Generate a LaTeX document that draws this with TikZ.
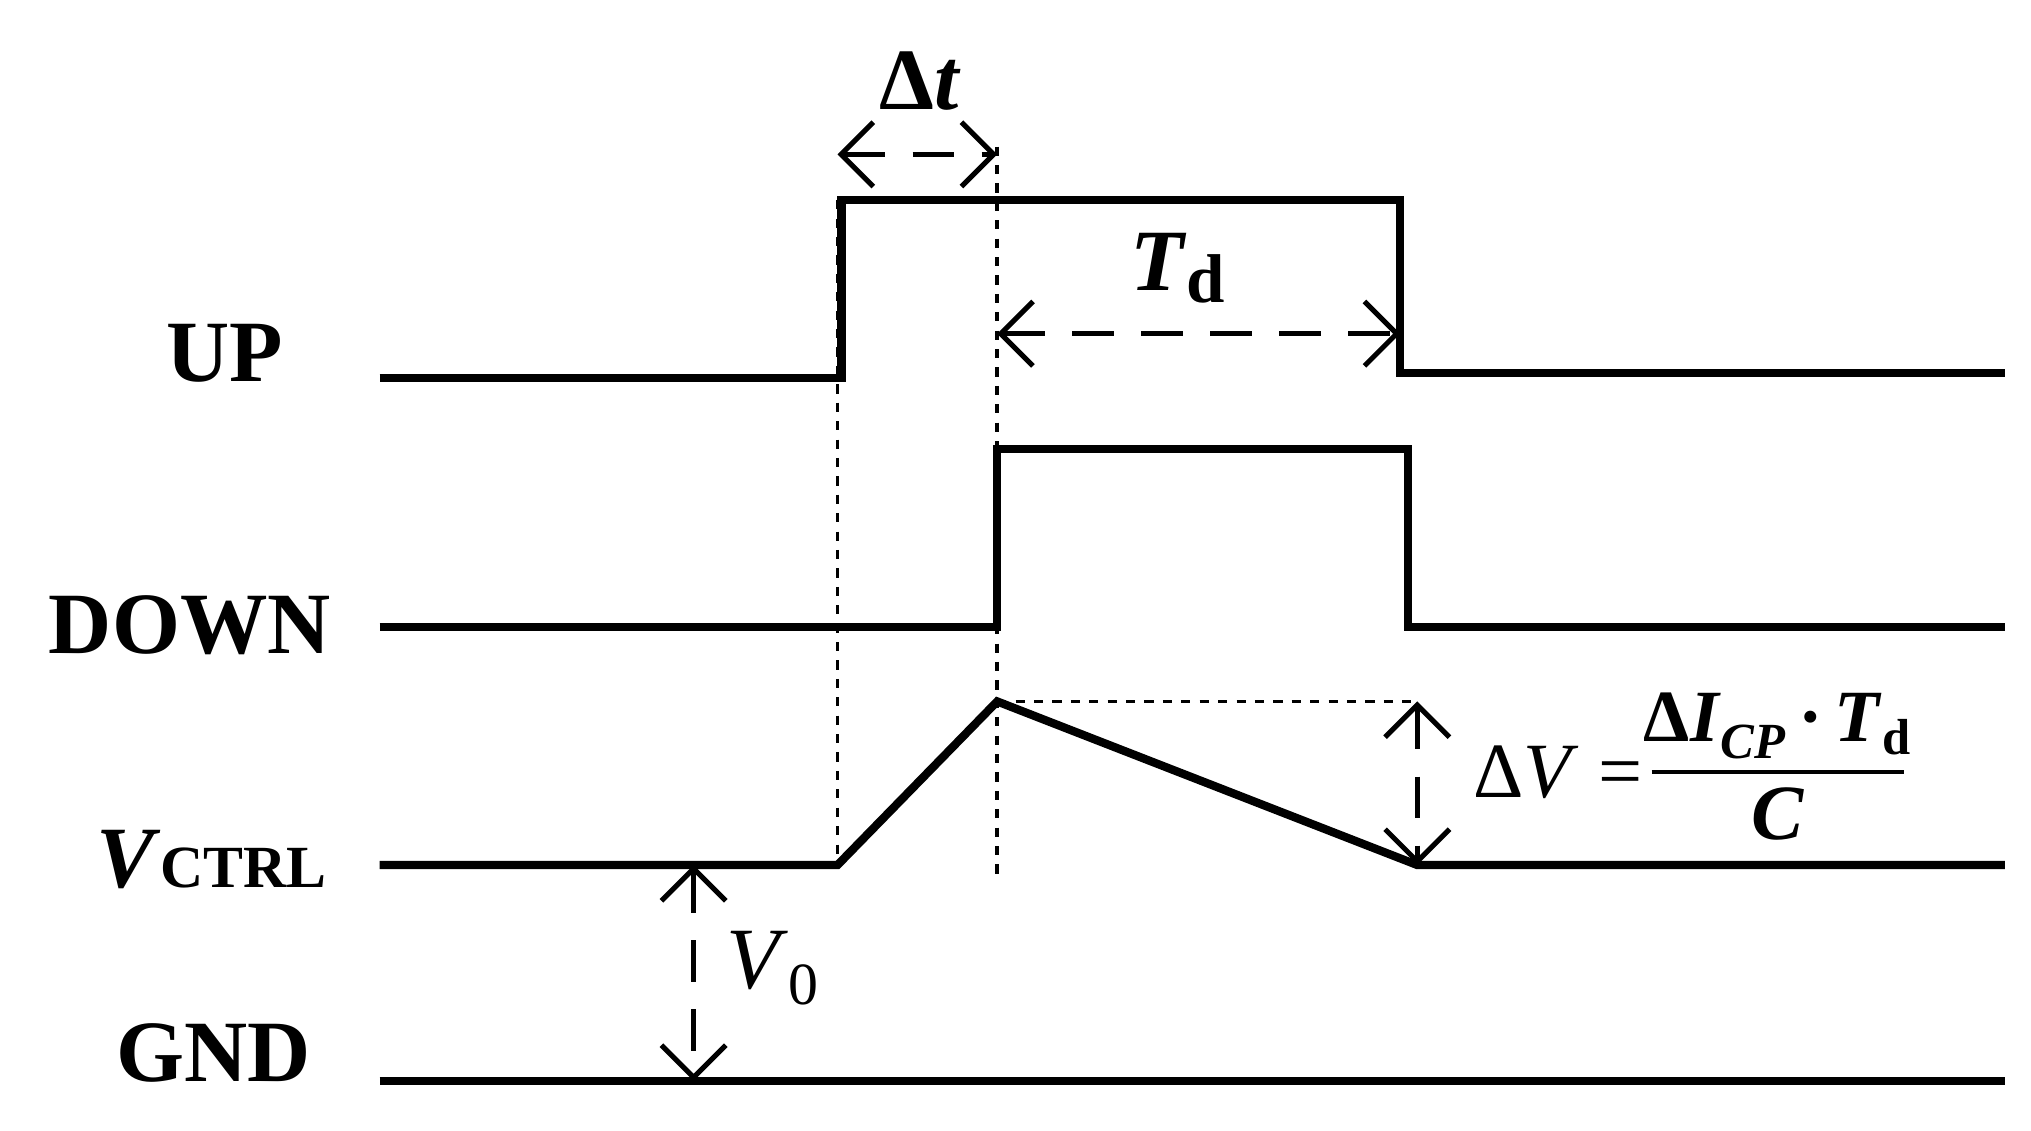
\documentclass[tikz,border=0pt]{standalone}
\usepackage{fontspec}
\setmainfont{Liberation Serif}
\usetikzlibrary{arrows.meta}
\begin{document}
\begin{tikzpicture}[x=0.01cm,y=-0.01cm,
  sig/.style={line width=1.8pt,line join=miter},
  dim/.style={line width=1.1pt,dash pattern=on 9pt off 6pt,{Straight Barb[length=7pt,width=14pt]}-{Straight Barb[length=7pt,width=14pt]}},
  guide/.style={line width=0.8pt,dash pattern=on 2pt off 2pt},
  lab/.style={font=\fontsize{19}{23}\selectfont\bfseries}]
\useasboundingbox (0,0) rectangle (1552,864);
% signals
\draw[sig] (290,289) -- (643,289) -- (643,153) -- (1070,153) -- (1070,285) -- (1532,285);
\draw[sig] (290,479) -- (762,479) -- (762,343) -- (1076,343) -- (1076,479) -- (1532,479);
\draw[sig] (290,661) -- (640,661) -- (762,536) -- (1083,661) -- (1532,661);
\draw[sig] (290,826) -- (1532,826);
% guides
\coordinate (a1) at (640,153); \coordinate (a2) at (640,661);
\coordinate (b1) at (762,112); \coordinate (b2) at (762,670);
\coordinate (p) at (762,536); \coordinate (q) at (1083,536);
\draw[guide] (a1) -- (a2);
\draw[guide] (b1) -- (b2);
\draw[guide] (p) -- (q);
% dimensions
\coordinate (d1) at (640,118); \coordinate (d2) at (762,118);
\draw[dim] (d1) -- (d2);
\coordinate (t1) at (762,255); \coordinate (t2) at (1070,255);
\draw[dim] (t1) -- (t2);
\coordinate (v1) at (1083,536); \coordinate (v2) at (1083,661);
\draw[dim] (v1) -- (v2);
\coordinate (g1) at (530,661); \coordinate (g2) at (530,826);
\draw[dim] (g1) -- (g2);
% labels
\node[lab] (dt) at (703,62) {Δ\textit{t}};
\node[lab] (td) at (900,205) {\textit{T}\raisebox{-0.3ex}{\fontsize{15}{18}\selectfont d}};
\node[lab] (up) at (172,270) {UP};
\node[lab] (down) at (145,478) {DOWN};
\node[lab,anchor=east] (vc) at (262,657) {\textit{V}\fontsize{13}{16}\selectfont CTRL};
\node[lab] (gnd) at (163,805) {GND};
\node[font=\fontsize{19}{23}\selectfont] (v0) at (590,740) {\textit{V}\raisebox{-0.4ex}{\fontsize{13}{16}\selectfont 0}};
\node[font=\fontsize{17}{20}\selectfont,anchor=west,inner sep=0] (dv1) at (1125,590) {Δ\textit{V} =};
\node[font=\fontsize{16}{19}\selectfont\bfseries,anchor=south,inner sep=1pt] (num) at (1358,584)
  {Δ\textit{I}\raisebox{-0.5ex}{\fontsize{11}{13}\selectfont\textit{CP}}\,·\,\textit{T}\raisebox{-0.4ex}{\fontsize{11}{13}\selectfont d}};
\draw[line width=0.8pt] (1262,590) -- (1455,590);
\node[font=\fontsize{17}{20}\selectfont\bfseries\itshape,anchor=north,inner sep=2pt] (den) at (1358,594) {C};
\end{tikzpicture}
\end{document}
